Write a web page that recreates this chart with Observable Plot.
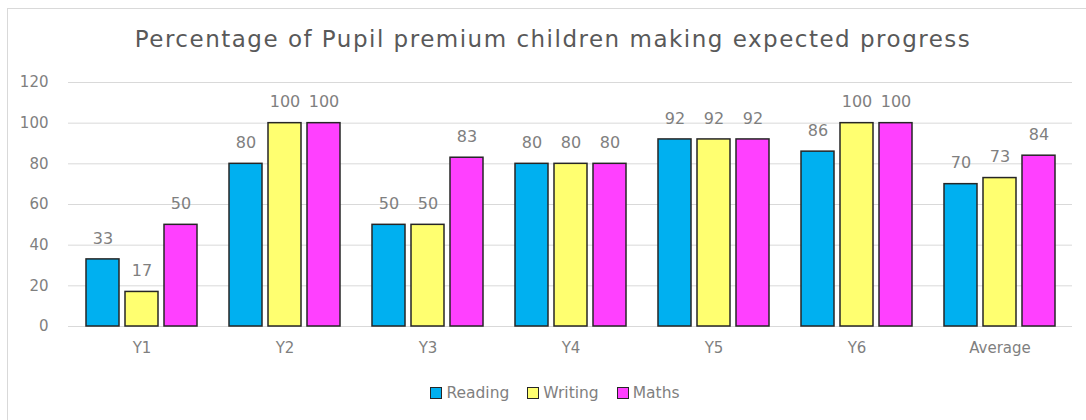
<!DOCTYPE html>
<html>
<head>
<meta charset="utf-8">
<script src="https://cdn.jsdelivr.net/npm/d3@7"></script>
<script src="https://cdn.jsdelivr.net/npm/@observablehq/plot@0.6"></script>
<style>
  html, body { margin: 0; padding: 0; background: #fff; }
  body { width: 1086px; height: 420px; position: relative; overflow: hidden; font-family: "DejaVu Sans", sans-serif; }
  #frame { position: absolute; left: 7px; top: 8px; width: 1100px; height: 440px; border: 1px solid #d9d9d9; box-sizing: border-box; }
  #title { position: absolute; left: 0; top: 26px; width: 1106px; text-align: center; font-size: 23px; color: #595959; letter-spacing: 1.5px; white-space: nowrap; }
  #grid, #chart { position: absolute; left: 0; top: 60px; }
  #legend { position: absolute; left: 0; top: 384px; width: 1110px; text-align: center; font-size: 15.5px; color: #7f7f7f; white-space: nowrap; }
  .item { display: inline-block; margin: 0 9px; }
  .sw { display: inline-block; width: 10px; height: 10px; border: 1.2px solid #262626; vertical-align: -1px; margin-right: 4px; }
</style>
</head>
<body>
<div id="frame"></div>
<div id="title">Percentage of Pupil premium children making expected progress</div>
<div id="grid"></div>
<div id="chart"></div>
<div id="legend"></div>
<script>
const categories = ["Y1", "Y2", "Y3", "Y4", "Y5", "Y6", "Average"];
const seriesNames = ["Reading", "Writing", "Maths"];
const reading = [33, 80, 50, 80, 92, 86, 70];
const writing = [17, 100, 50, 80, 92, 100, 73];
const maths = [50, 100, 83, 80, 92, 100, 84];
const colors = ["#00b0f0", "#ffff70", "#ff40ff"];
const yTicks = [0, 20, 40, 60, 80, 100, 120];

const seriesValues = [reading, writing, maths];
const data = [];
categories.forEach((c, i) => {
  seriesNames.forEach((s, j) => data.push({category: c, series: s, value: seriesValues[j][i]}));
});

const common = {
  width: 1086,
  height: 300,
  marginLeft: 68,
  marginRight: 14,
  marginTop: 22,
  marginBottom: 34,
  style: {fontFamily: "DejaVu Sans, sans-serif", fontSize: "15px", color: "#7f7f7f", background: "transparent"}
};

const gridPlot = Plot.plot({
  ...common,
  y: {domain: [0, 120], label: null, axis: null},
  marks: [
    Plot.ruleY(yTicks, {stroke: "#d9d9d9", strokeWidth: 1}),
    Plot.axisY(yTicks, {anchor: "left", tickSize: 0, tickPadding: 20, label: null, fill: "#7f7f7f", fontSize: 15})
  ]
});
document.getElementById("grid").appendChild(gridPlot);

const plot = Plot.plot({
  ...common,
  fx: {domain: categories, paddingInner: 0.226, paddingOuter: 0.113, label: null, axis: null},
  x: {domain: seriesNames, paddingInner: 0.154, paddingOuter: 0, axis: null},
  y: {domain: [0, 120], label: null, axis: null},
  color: {domain: seriesNames, range: colors},
  marks: [
    Plot.axisFx({anchor: "bottom", tickSize: 0, tickPadding: 16, label: null, fill: "#7f7f7f", fontSize: 15}),
    Plot.barY(data, {fx: "category", x: "series", y: "value", fill: "series", stroke: "#262626", strokeWidth: 1.5}),
    Plot.text(data, {fx: "category", x: "series", y: "value", text: d => String(d.value), dy: -21, fill: "#7f7f7f", fontSize: 16})
  ]
});
document.getElementById("chart").appendChild(plot);

const legend = document.getElementById("legend");
seriesNames.forEach((s, i) => {
  const item = document.createElement("span");
  item.className = "item";
  const sw = document.createElement("span");
  sw.className = "sw";
  sw.style.background = colors[i];
  item.appendChild(sw);
  item.appendChild(document.createTextNode(s));
  legend.appendChild(item);
});
</script>
</body>
</html>
